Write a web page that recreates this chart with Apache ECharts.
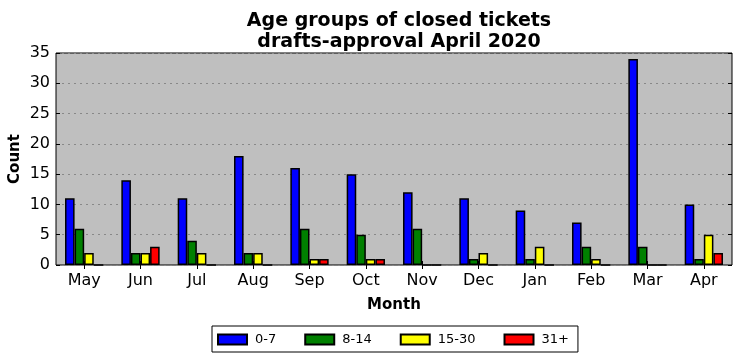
<!DOCTYPE html>
<html><head><meta charset="utf-8">
<script src="https://cdn.jsdelivr.net/npm/echarts@6/dist/echarts.min.js"></script>
<style>html,body{margin:0;padding:0;background:#fff}#c{width:742px;height:361px}</style>
</head><body><div id="c"></div>
<script>
const months = ['May','Jun','Jul','Aug','Sep','Oct','Nov','Dec','Jan','Feb','Mar','Apr'];
const seriesNames = ['0-7','8-14','15-30','31+'];
const s0_7   = [11,14,11,18,16,15,12,11,9,7,34,10];
const s8_14  = [6,2,4,2,6,5,6,1,1,3,3,1];
const s15_30 = [2,2,2,2,1,1,0,2,3,1,0,5];
const s31    = [0,3,0,0,1,1,0,0,0,0,0,2];
const yTicks = [0,5,10,15,20,25,30,35];
const colors = ['#0000ff','#008000','#ffff00','#ff0000'];
const font = 'DejaVu Sans';
const chart = echarts.init(document.getElementById('c'), null, {renderer:'canvas'});
const data = [s0_7, s8_14, s15_30, s31];
chart.setOption({
  animation:false,
  textStyle:{fontFamily:font},
  title:{text:'Age groups of closed tickets\ndrafts-approval April 2020', left:394, textAlign:'center', top:6,
    textStyle:{fontFamily:font,fontWeight:'bold',fontSize:19,color:'#000',lineHeight:21}},
  grid:{left:56,right:10,top:53,bottom:96,outerBoundsMode:'none',containLabel:false,show:true,backgroundColor:'#bfbfbf',borderColor:'#000',borderWidth:1},
  legend:{data:seriesNames,left:212,top:326,padding:[7,9,6,5],itemGap:28,itemWidth:29,itemHeight:10,
    borderColor:'#000',borderWidth:1,icon:'rect',textStyle:{fontFamily:font,fontSize:13,color:'#000',padding:[0,0,0,3]}},
  xAxis:[{type:'category',data:months,name:'Month',nameLocation:'middle',nameGap:33,nameMoveOverlap:false,
    nameTextStyle:{fontFamily:font,fontWeight:'bold',fontSize:15,color:'#000'},
    axisLine:{show:false},axisTick:{show:true,inside:true,alignWithLabel:true,length:4,lineStyle:{color:'#000'}},
    axisLabel:{fontFamily:font,fontSize:16,color:'#000',margin:8},splitLine:{show:false}},
    {type:'category',data:months,position:'top',axisLine:{show:false},axisLabel:{show:false},
    axisTick:{show:true,inside:true,alignWithLabel:true,length:4,lineStyle:{color:'#000'}}}],
  yAxis:[{type:'value',min:yTicks[0],max:yTicks[yTicks.length-1],interval:5,name:'Count',nameLocation:'middle',nameGap:33,nameMoveOverlap:false,
    nameTextStyle:{fontFamily:font,fontWeight:'bold',fontSize:15,color:'#000'},
    axisLine:{show:false},axisTick:{show:true,inside:true,length:4,lineStyle:{color:'#000'}},
    axisLabel:{fontFamily:font,fontSize:16,color:'#000',margin:6},
    splitLine:{show:true,lineStyle:{color:'#888',type:[2,4],width:1}}},
    {type:'value',min:yTicks[0],max:yTicks[yTicks.length-1],interval:5,position:'right',axisLine:{show:false},axisLabel:{show:false},
    splitLine:{show:false},axisTick:{show:true,inside:true,length:4,lineStyle:{color:'#000'}}}],
  series: seriesNames.map((n,i)=>({name:n,type:'bar',data:data[i],barWidth:'17%',barGap:'0%',barCategoryGap:'32%',
    itemStyle:{color:colors[i],borderColor:'#000',borderWidth:1.5}}))
});
</script></body></html>
